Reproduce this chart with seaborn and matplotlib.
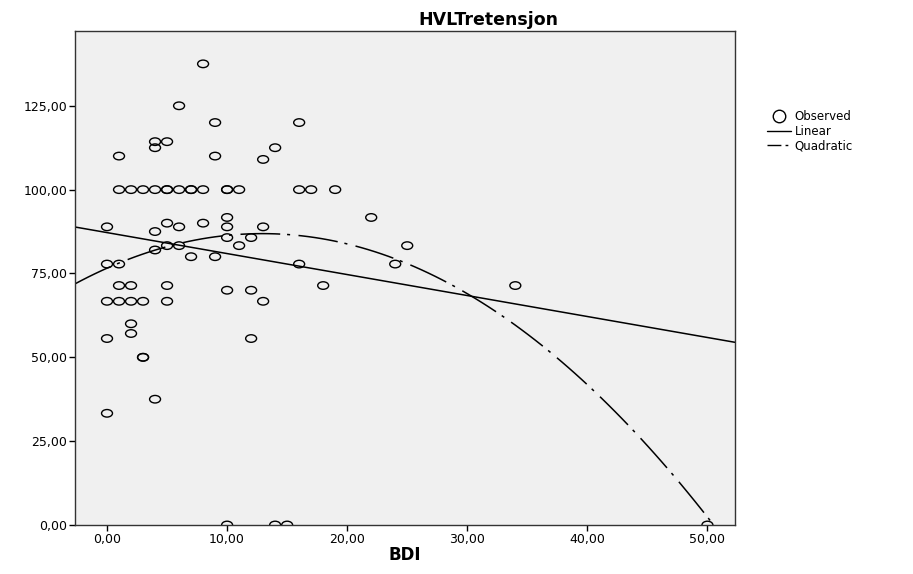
import numpy as np
import pandas as pd
import matplotlib
matplotlib.use("Agg")
import matplotlib.pyplot as plt
import seaborn as sns
from matplotlib.path import Path
from matplotlib.transforms import Affine2D
from matplotlib.lines import Line2D
from matplotlib.ticker import FuncFormatter

bdi = [0, 0, 0, 0, 0,
       1, 1, 1, 1, 1,
       2, 2, 2, 2, 2,
       3, 3, 3, 3,
       4, 4, 4, 4, 4, 4,
       5, 5, 5, 5, 5, 5, 5,
       6, 6, 6, 6,
       7, 7, 7,
       8, 8, 8,
       9, 9, 9,
       10, 10, 10, 10, 10, 10, 10,
       11, 11,
       12, 12, 12,
       13, 13, 13,
       14, 14,
       15,
       16, 16, 16,
       17, 18, 19, 22, 24, 25, 34, 50]
hvlt = [88.9, 77.8, 66.7, 55.6, 33.3,
        110, 100, 77.8, 71.4, 66.7,
        100, 71.4, 66.7, 60, 57.1,
        100, 66.7, 50, 50,
        114.3, 112.5, 100, 87.5, 82, 37.5,
        114.3, 100, 100, 90, 83.3, 71.4, 66.7,
        125, 100, 88.9, 83.3,
        100, 100, 80,
        137.5, 100, 90,
        120, 110, 80,
        100, 100, 91.7, 88.9, 85.7, 70, 0,
        100, 83.3,
        85.7, 70, 55.6,
        109, 88.9, 66.7,
        112.5, 0,
        0,
        120, 100, 77.8,
        100, 71.4, 100, 91.7, 77.8, 83.3, 71.4, 0]

x_ticks = [0, 10, 20, 30, 40, 50]
y_ticks = [0, 25, 50, 75, 100, 125]

df = pd.DataFrame({"BDI": bdi, "HVLTretensjon": hvlt})

sns.set_style("ticks")
plt.rcParams["font.family"] = ["DejaVu Sans"]
plt.rcParams["text.color"] = "black"
plt.rcParams["xtick.color"] = "black"
plt.rcParams["ytick.color"] = "black"
plt.rcParams["axes.labelcolor"] = "black"

fig = plt.figure(figsize=(9.13, 5.74), dpi=100)
ax = fig.add_axes([0.0821, 0.0854, 0.7230, 0.8606])
ax.set_facecolor("#f0f0f0")
ax.set_xlim(-2.67, 52.3)
ax.set_ylim(0, 147.3)

# SPSS output is stretched sideways, so the circles come out flattened
ellipse = Path.unit_circle().transformed(Affine2D().scale(1.45, 1.0))

sns.scatterplot(data=df, x="BDI", y="HVLTretensjon", ax=ax, marker=ellipse,
                s=62, facecolors="none", edgecolor="black", linewidth=1.0,
                legend=False)

dash_dot = (0, (26, 4.5, 2, 5.5))
sns.regplot(data=df, x="BDI", y="HVLTretensjon", ax=ax, order=1, ci=None,
            scatter=False, truncate=False,
            line_kws={"color": "black", "lw": 1.1})
sns.regplot(data=df, x="BDI", y="HVLTretensjon", ax=ax, order=2, ci=None,
            scatter=False, truncate=False,
            line_kws={"color": "black", "lw": 1.1, "linestyle": dash_dot})

ax.set_xlim(-2.67, 52.3)
ax.set_ylim(0, 147.3)
ax.set_xticks(x_ticks)
ax.set_yticks(y_ticks)
fmt = FuncFormatter(lambda v, p: f"{v:.2f}".replace(".", ","))
ax.xaxis.set_major_formatter(fmt)
ax.yaxis.set_major_formatter(fmt)
ax.tick_params(axis="both", labelsize=9, length=4, width=1, color="black",
               direction="out", pad=1.5)
for side in ["top", "right", "left", "bottom"]:
    ax.spines[side].set_visible(True)
    ax.spines[side].set_color("#333333")
    ax.spines[side].set_linewidth(1)

ax.set_xlabel("BDI", fontsize=12, fontweight="bold", labelpad=0)
ax.set_ylabel("")
fig.text(0.535, 0.966, "HVLTretensjon", ha="center", va="center",
         fontsize=12.5, fontweight="bold")

handles = [
    Line2D([], [], marker="o", markersize=9, markerfacecolor="none",
           markeredgecolor="black", linestyle="none", label="Observed"),
    Line2D([], [], color="black", lw=1, label="Linear"),
    Line2D([], [], color="black", lw=1, linestyle=(0, (10, 3, 2, 3)),
           label="Quadratic"),
]
fig.legend(handles=handles, loc="upper left", bbox_to_anchor=(0.834, 0.818),
           frameon=False, fontsize=8.5, handlelength=2.0, handletextpad=0.3,
           labelspacing=0.12, borderpad=0)

fig.savefig("out.png", dpi=100)
